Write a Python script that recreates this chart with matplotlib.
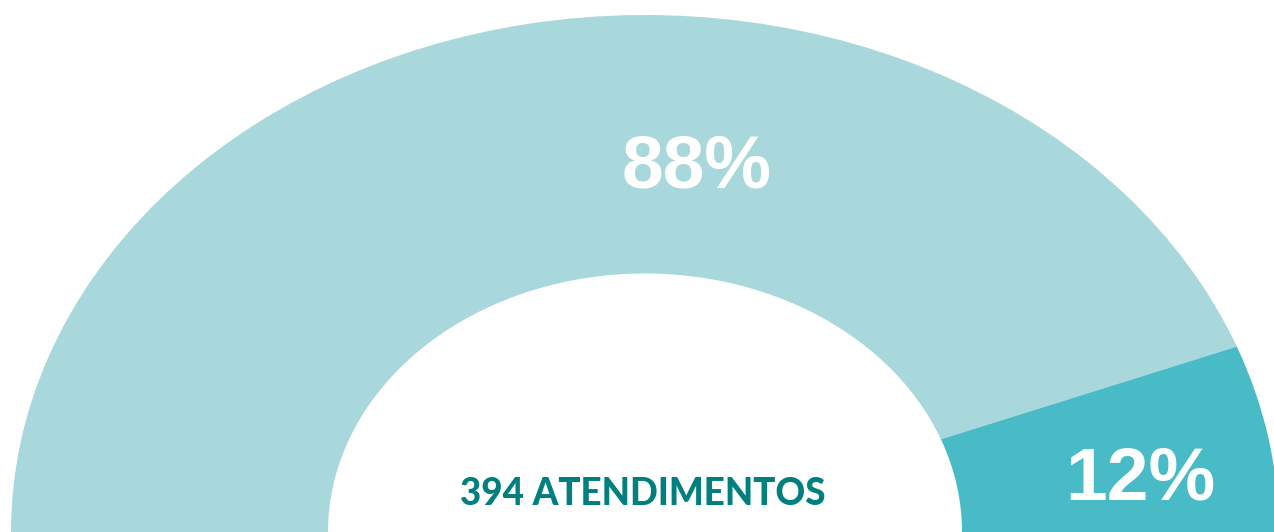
import matplotlib
matplotlib.use("Agg")
import matplotlib.pyplot as plt

# -----------------------
# Data
# -----------------------
categories = ["Grupo A", "Grupo B"]
counts = [348, 46]
total = sum(counts)
pct_labels = [f"{round(100 * c / total)}%" for c in counts]
total_label = f"{total} ATENDIMENTOS"

colors = ["#A9D8DC", "#48BBC6"]
text_dark = "#007F7F"

W, H = 1274, 532
fig = plt.figure(figsize=(W / 100, H / 100), dpi=100)
ax = fig.add_axes([0, 0, 1, 1])

# half donut: the hidden half fills the lower 180 degrees
ax.pie(
    counts + [total],
    colors=colors + ["none"],
    startangle=180,
    counterclock=False,
    wedgeprops=dict(width=0.5, linewidth=0),
)
ax.set_aspect("auto")

# stretch the donut into an ellipse like the reference
cx, a, b = 645, 634, 517
ax.set_xlim(-cx / a, (W - cx) / a)
ax.set_ylim(0, H / b)
ax.axis("off")


def px_text(x, y, s, **kw):
    fig.text(x / W, 1 - y / H, s, ha="center", va="center", **kw)


px_text(697, 168, pct_labels[0], color="white", fontsize=54,
        fontweight="bold", family="Liberation Sans")
px_text(1140, 480, pct_labels[1], color="white", fontsize=54,
        fontweight="bold", family="Liberation Sans")
px_text(643, 494, total_label, color=text_dark, fontsize=26.5,
        fontweight=900, family="Lato")

fig.savefig("out.png", dpi=100)
plt.close(fig)
